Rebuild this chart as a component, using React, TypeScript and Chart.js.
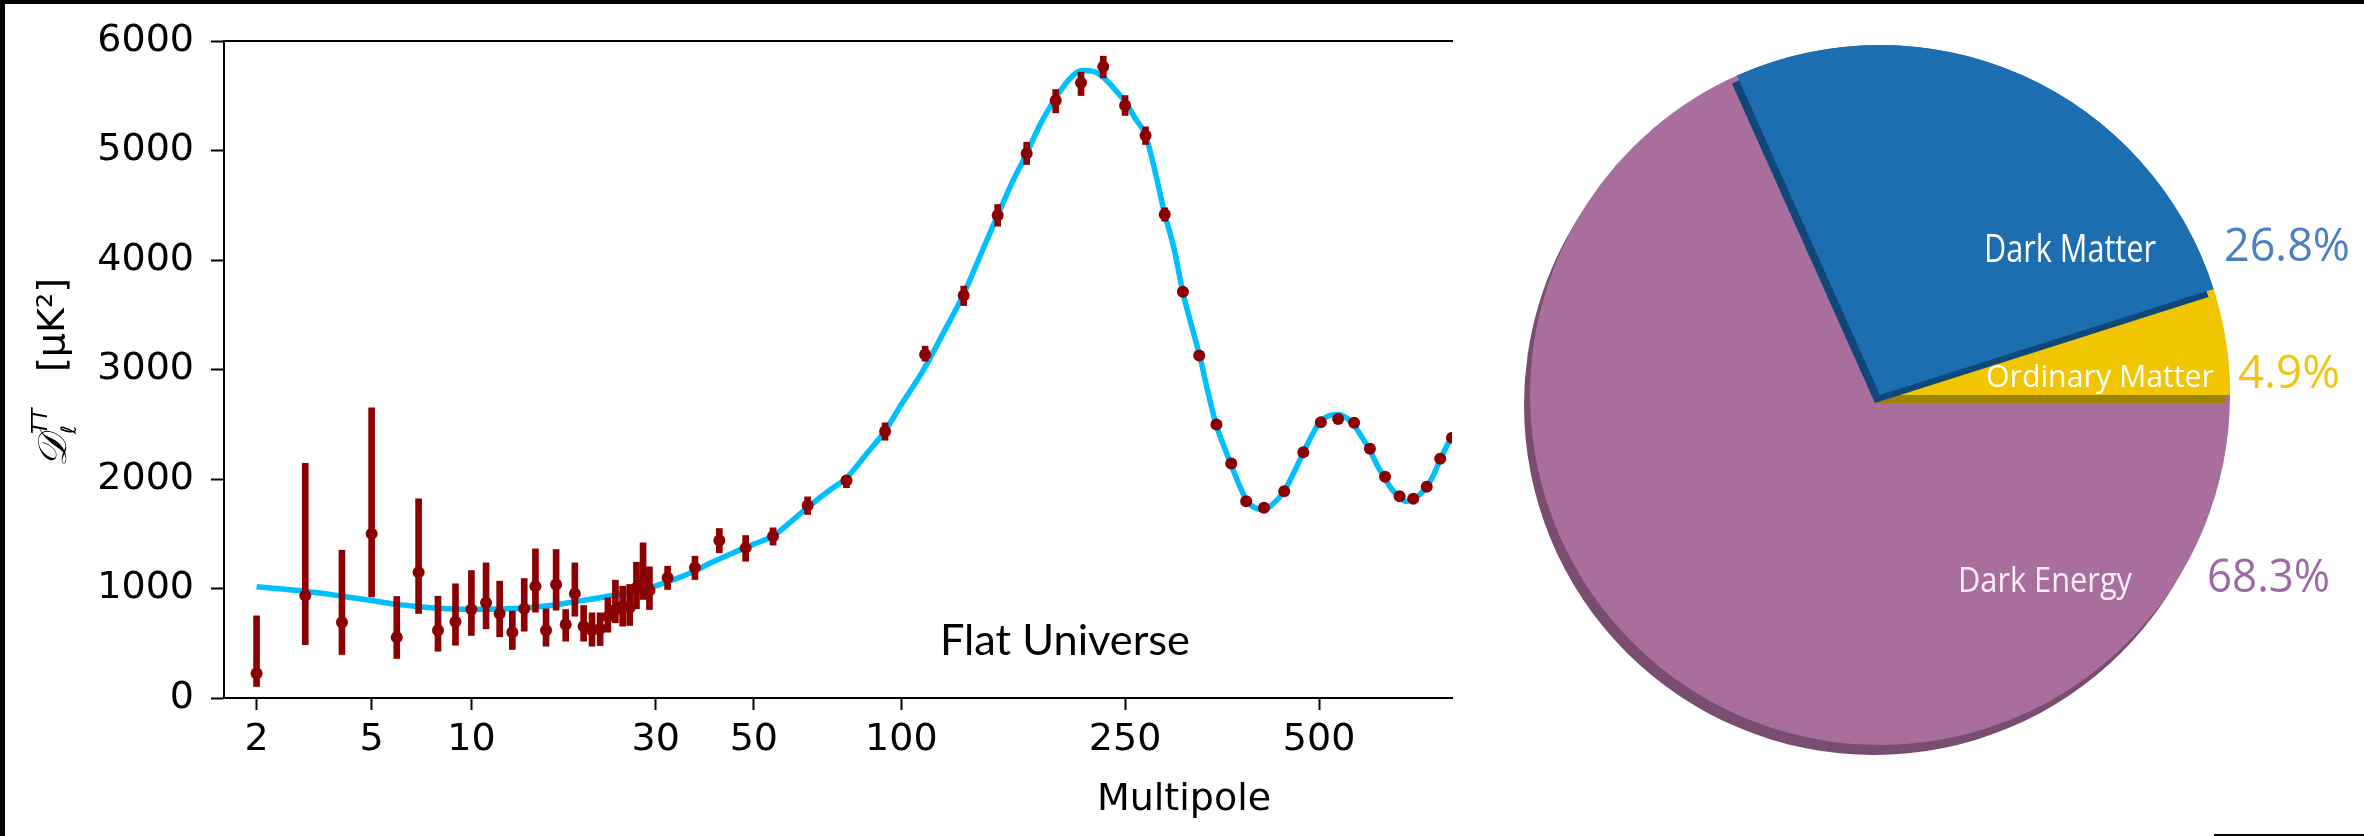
import React, { useEffect, useRef } from 'react';
import { Chart, registerables, LinearScale } from 'chart.js';

Chart.register(...registerables);

// ---------------- data ----------------
const X_TICKS = [2, 5, 10, 30, 50, 100, 250, 500];
const Y_TICKS = [0, 1000, 2000, 3000, 4000, 5000, 6000];

const ELL = [2, 3, 4, 5, 6, 7, 8, 9, 10, 11, 12, 13, 14, 15, 16, 17, 18, 19, 20, 21, 22, 23, 24, 25, 26, 27, 28, 29,
  32, 37, 42, 48, 55, 65, 78, 93,
  111, 131, 151, 170, 191, 211, 230, 250, 270, 290,
  310, 329, 350, 369, 389, 414, 444, 474, 503, 533, 562, 592, 622, 652, 681, 711, 742, 770];

const DL = [224, 936, 692, 1499, 555, 1149, 619, 696, 808, 869, 769, 601, 814, 1021, 619, 1037, 671, 951, 656, 619, 632, 742, 808, 838, 824, 1006, 1082, 985,
  1098, 1189, 1438, 1371, 1478, 1758, 1986, 2434,
  3137, 3676, 4409, 4973, 5457, 5618, 5764, 5411, 5137, 4415,
  3709, 3128, 2498, 2142, 1797, 1737, 1889, 2245, 2519, 2549, 2513, 2276, 2020, 1843, 1819, 1929, 2184, 2376];

const DL_LO = [105, 488, 397, 924, 361, 772, 427, 482, 571, 632, 559, 443, 610, 784, 473, 802, 519, 747, 519, 473, 479, 601, 687, 656, 662, 815, 900, 808,
  991, 1082, 1326, 1249, 1396, 1676, 1920, 2354,
  3076, 3584, 4309, 4872, 5344, 5502, 5664, 5320, 5055, 4354,
  3680, 3100, 2480, 2125, 1780, 1720, 1872, 2228, 2502, 2532, 2496, 2259, 2003, 1826, 1802, 1912, 2167, 2359];

const DL_HI = [750, 2144, 1350, 2650, 927, 1819, 930, 1043, 1164, 1234, 1067, 793, 1091, 1362, 814, 1356, 808, 1234, 845, 778, 778, 915, 1076, 1021, 1037, 1240, 1417, 1198,
  1204, 1295, 1548, 1484, 1554, 1837, 2032, 2513,
  3213, 3761, 4507, 5076, 5557, 5715, 5861, 5502, 5216, 4477,
  3738, 3156, 2516, 2159, 1814, 1754, 1906, 2262, 2536, 2566, 2530, 2293, 2037, 1860, 1836, 1946, 2201, 2393];

const MODEL_ELL = [2, 3, 4, 5, 6, 7, 8, 10, 12, 14, 16, 19, 22, 25, 28, 30, 33, 36, 40, 45, 50, 55, 60, 65, 72, 78, 85, 93,
  100, 110, 120, 131, 141, 151, 160, 170, 180, 191, 200, 212, 222, 232, 242, 250, 260, 270, 280, 290, 300, 310, 320, 330,
  340, 350, 360, 370, 380, 390, 400, 412, 425, 444, 460, 474, 490, 503, 518, 534, 550, 562, 577, 592, 607, 622, 637, 652,
  666, 681, 696, 711, 727, 742, 756, 770];

const MODEL_DL = [1015, 975, 930, 890, 855, 835, 820, 810, 812, 822, 840, 880, 915, 955, 995, 1025, 1080, 1140, 1230, 1325, 1405, 1480, 1610, 1740, 1895, 2010, 2215, 2440,
  2680, 2990, 3330, 3690, 4060, 4409, 4700, 4973, 5250, 5480, 5630, 5730, 5720, 5650, 5540, 5445, 5290, 5140, 4800, 4420, 4110, 3705, 3400, 3110,
  2780, 2490, 2290, 2110, 1940, 1800, 1740, 1720, 1760, 1890, 2070, 2240, 2420, 2530, 2580, 2590, 2550, 2490, 2380, 2260, 2120, 2000, 1900, 1830,
  1795, 1820, 1860, 1930, 2040, 2180, 2290, 2390];

const PIE_LABELS = ['Dark Matter', 'Ordinary Matter', 'Dark Energy'];
const PIE_VALUES = [26.8, 4.9, 68.3];
const PIE_PCT = ['26.8%', '4.9%', '68.3%'];
const PIE_COLORS = ['#1d6eb1', '#f1c500', '#a96f9c'];
const PIE_SHADOWS = ['#0f4778', '#9a8400', '#7a4c6f'];
const PIE_PCT_COLORS = ['#4b80c2', '#f3c410', '#9d6aa6'];

// ---------------- custom multipole scale ----------------
const POW = 0.17;
const fwd = (v: number) => Math.pow(Math.max(v, 1e-9), POW);
const inv = (u: number) => Math.pow(Math.max(u, 0), 1 / POW);

class MultipoleScale extends LinearScale {
  static id = 'multipole';
  static defaults = LinearScale.defaults;
  determineDataLimits() {
    const o: any = (this as any).options;
    (this as any).min = o.min;
    (this as any).max = o.max;
  }
  buildTicks() {
    const self: any = this;
    return X_TICKS.filter((v) => v >= self.min && v <= self.max).map((v) => ({ value: v }));
  }
  getPixelForValue(value: any) {
    if (value === null || value === undefined || isNaN(value)) return NaN;
    const self: any = this;
    const a = fwd(self.min), b = fwd(self.max);
    return self.getPixelForDecimal((fwd(value) - a) / (b - a));
  }
  getValueForPixel(pixel: number) {
    const self: any = this;
    const a = fwd(self.min), b = fwd(self.max);
    return inv(a + self.getDecimalForPixel(pixel) * (b - a));
  }
}
Chart.register(MultipoleScale as any);

// ---------------- helpers ----------------
function fitText(ctx: CanvasRenderingContext2D, text: string, x: number, y: number, w: number, font: string, color: string) {
  ctx.save();
  ctx.font = font;
  ctx.fillStyle = color;
  ctx.textBaseline = 'alphabetic';
  ctx.textAlign = 'left';
  const m = ctx.measureText(text).width || 1;
  ctx.translate(x, y);
  ctx.scale(w / m, 1);
  ctx.fillText(text, 0, 0);
  ctx.restore();
}

const spectrumText = {
  id: 'spectrumText',
  afterDraw(chart: any) {
    const ctx: CanvasRenderingContext2D = chart.ctx;
    ctx.save();
    fitText(ctx, 'Flat Universe', 940, 655, 250, '42px Lato', '#000');
    ctx.fillStyle = '#000';
    ctx.font = '38px "DejaVu Sans"';
    ctx.textAlign = 'center';
    ctx.textBaseline = 'alphabetic';
    ctx.fillText('Multipole', 1184, 810);
    // y-axis label (rotated)
    ctx.translate(64, 467);
    ctx.rotate(-Math.PI / 2);
    ctx.textAlign = 'left';
    ctx.font = 'italic 40px "DejaVu Serif"';
    ctx.fillText('𝒟', 0, 2);
    const dw = ctx.measureText('𝒟').width;
    ctx.font = 'italic 21px "DejaVu Sans"';
    ctx.fillText('TT', dw + 1, -17);
    ctx.fillText('ℓ', dw + 1, 12);
    ctx.font = '38px "DejaVu Sans"';
    ctx.fillText('[μK²]', 95, 0);
    ctx.restore();
  },
};

function drawShadow(ctx: CanvasRenderingContext2D, arc: any, color: string, dx: number, dy: number) {
  const p = arc.getProps(['x', 'y', 'startAngle', 'endAngle', 'outerRadius'], true);
  ctx.save();
  ctx.fillStyle = color;
  ctx.beginPath();
  ctx.moveTo(p.x + dx, p.y + dy);
  ctx.arc(p.x + dx, p.y + dy, p.outerRadius, p.startAngle, p.endAngle);
  ctx.closePath();
  ctx.fill();
  ctx.restore();
}

const pieDecor = {
  id: 'pieDecor',
  beforeDatasetsDraw(chart: any) {
    const meta = chart.getDatasetMeta(0);
    drawShadow(chart.ctx, meta.data[2], PIE_SHADOWS[2], -6, 10);
  },
  afterDatasetsDraw(chart: any) {
    const ctx: CanvasRenderingContext2D = chart.ctx;
    const meta = chart.getDatasetMeta(0);
    [1, 0].forEach((i) => {
      drawShadow(ctx, meta.data[i], PIE_SHADOWS[i], -5, 8);
      meta.data[i].draw(ctx);
    });
    const cx = meta.data[0].x, cy = meta.data[0].y;
    // slice names
    fitText(ctx, PIE_LABELS[0], cx + 104, cy - 133, 172, '38px "Open Sans"', '#ffffff');
    fitText(ctx, PIE_LABELS[1], cx + 106, cy - 8, 228, '31px "Open Sans"', '#ffffff');
    fitText(ctx, PIE_LABELS[2], cx + 78, cy + 197, 174, '35px "Open Sans"', '#fbf0f7');
    // percentages
    fitText(ctx, PIE_PCT[0], cx + 344, cy - 134, 126, '45px "Open Sans"', PIE_PCT_COLORS[0]);
    fitText(ctx, PIE_PCT[1], cx + 358, cy - 7, 102, '46px "Open Sans"', PIE_PCT_COLORS[1]);
    fitText(ctx, PIE_PCT[2], cx + 327, cy + 197, 123, '45px "Open Sans"', PIE_PCT_COLORS[2]);
  },
};

export default function App() {
  const leftRef = useRef<HTMLCanvasElement>(null);
  const rightRef = useRef<HTMLCanvasElement>(null);

  useEffect(() => {
    const axisFont = { family: '"DejaVu Sans"', size: 38 };
    const left = new Chart(leftRef.current as HTMLCanvasElement, {
      type: 'line',
      data: {
        datasets: [
          {
            type: 'line',
            label: 'Model',
            data: MODEL_ELL.map((l, i) => ({ x: l, y: MODEL_DL[i] })),
            borderColor: '#00bfff',
            borderWidth: 5.5,
            pointRadius: 0,
            cubicInterpolationMode: 'monotone',
            fill: false,
            order: 3,
          } as any,
          {
            type: 'bar',
            label: 'Error',
            data: ELL.map((l, i) => ({ x: l, y: [DL_LO[i], DL_HI[i]] })),
            backgroundColor: '#8b0000',
            borderWidth: 0,
            barThickness: 6,
            grouped: false,
            order: 2,
          } as any,
          {
            type: 'scatter',
            label: 'Data',
            data: ELL.map((l, i) => ({ x: l, y: DL[i] })),
            backgroundColor: '#8b0000',
            borderWidth: 0,
            pointRadius: 6,
            clip: 0,
            order: 1,
          } as any,
        ],
      },
      options: {
        responsive: false,
        animation: false,
        events: [],
        layout: { padding: { left: 0, top: 41, right: 18, bottom: 0 } },
        plugins: { legend: { display: false }, tooltip: { enabled: false } },
        scales: {
          x: {
            type: 'multipole',
            position: 'bottom',
            min: 1.5,
            max: 770,
            offset: false,
            afterFit: (s: any) => { s.height = 138; },
            border: { display: true, color: '#000', width: 2 },
            grid: { display: true, offset: false, drawOnChartArea: false, drawTicks: true, tickLength: 12, tickWidth: 2, tickColor: '#000' },
            ticks: { color: '#000', font: axisFont, padding: 7, maxRotation: 0, minRotation: 0, autoSkip: false, callback: (v: any) => String(v) },
          },
          xTop: {
            type: 'linear',
            position: 'top',
            display: true,
            offset: false,
            afterFit: (s: any) => { s.height = 0; },
            border: { display: true, color: '#000', width: 2 },
            grid: { display: true, offset: false, drawOnChartArea: false, drawTicks: false },
            ticks: { display: false },
          },
          y: {
            type: 'linear',
            min: 0,
            max: 6000,
            afterFit: (s: any) => { s.width = 224; },
            afterBuildTicks: (s: any) => { s.ticks = Y_TICKS.map((v) => ({ value: v })); },
            border: { display: true, color: '#000', width: 2 },
            grid: { display: true, drawOnChartArea: false, drawTicks: true, tickLength: 13, tickWidth: 2, tickColor: '#000' },
            ticks: { color: '#000', font: axisFont, padding: 17, callback: (v: any) => String(v) },
          },
        } as any,
      },
      plugins: [spectrumText],
    } as any);

    const right = new Chart(rightRef.current as HTMLCanvasElement, {
      type: 'pie',
      data: {
        labels: PIE_LABELS,
        datasets: [
          {
            data: PIE_VALUES,
            backgroundColor: PIE_COLORS,
            borderWidth: 0,
            rotation: 90 - (PIE_VALUES[0] + PIE_VALUES[1]) * 3.6,
          } as any,
        ],
      },
      options: {
        responsive: false,
        animation: false,
        events: [],
        layout: { padding: { left: 60, right: 134, top: 45, bottom: 91 } },
        plugins: { legend: { display: false }, tooltip: { enabled: false } },
      },
      plugins: [pieDecor],
    } as any);

    return () => {
      left.destroy();
      right.destroy();
    };
  }, []);

  return (
    <div style={{ position: 'absolute', left: 0, top: 0, width: 2364, height: 836, background: '#fff', overflow: 'hidden' }}>
      <canvas ref={leftRef} width={1470} height={836} style={{ position: 'absolute', left: 0, top: 0, width: 1470, height: 836 }} />
      <canvas ref={rightRef} width={894} height={836} style={{ position: 'absolute', left: 1470, top: 0, width: 894, height: 836 }} />
      <div style={{ position: 'absolute', left: 0, top: 0, width: 2364, height: 4, background: '#000' }} />
      <div style={{ position: 'absolute', left: 0, top: 0, width: 5, height: 836, background: '#000' }} />
      <div style={{ position: 'absolute', left: 2214, top: 834, width: 150, height: 2, background: '#000' }} />
    </div>
  );
}
